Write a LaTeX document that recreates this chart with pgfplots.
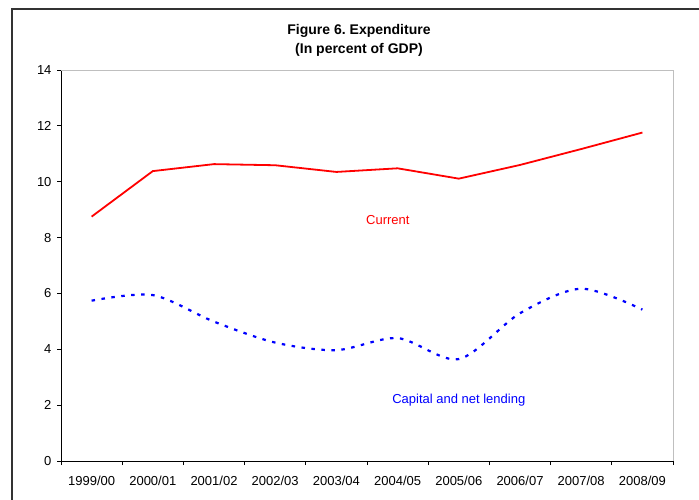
\documentclass[border=0pt]{standalone}
\usepackage{fontspec}
\setmainfont{Liberation Sans}
\usepackage{pgfplots}
\pgfplotsset{compat=1.18}
\frenchspacing

\begin{document}
\begin{tikzpicture}[x=1pt,y=1pt]
\path[use as bounding box] (0,0) rectangle (699,499);
% outer frame (runs off the right and bottom edges)
\draw[line width=1.4pt, draw=black!80] (12,-20) rectangle (720,490);
\node[align=center, font=\fontsize{14}{19}\selectfont\bfseries] at (359,458.5)
  {Figure 6. Expenditure\\(In percent of GDP)};
\begin{axis}[
  at={(61pt,38pt)}, anchor=south west,
  scale only axis, width=612pt, height=391pt,
  xmin=-0.5, xmax=9.5, ymin=0, ymax=14,
  axis lines=left,
  axis line style={-, black, line width=0.8pt},
  xtick={-0.5,0.5,...,9.5},
  x tick label as interval,
  xticklabels={1999/00,2000/01,2001/02,2002/03,2003/04,2004/05,2005/06,2006/07,2007/08,2008/09},
  ytick={0,2,...,14},
  tick align=outside,
  major tick length=4pt,
  tick style={black, line width=0.8pt},
  ticklabel style={font=\fontsize{13}{15}\selectfont},
  xticklabel style={yshift=-8pt},
  yticklabel style={xshift=-2pt},
  /pgf/number format/assume math mode=true,
  clip=false,
]
\draw[gray!50, line width=0.9pt] (rel axis cs:0,1) -- (rel axis cs:1,1) -- (rel axis cs:1,0);

\addplot[red, line width=1.8pt, mark=none] coordinates {
  (0,8.75) (1,10.38) (2,10.63) (3,10.59) (4,10.35)
  (5,10.48) (6,10.11) (7,10.60) (8,11.17) (9,11.76)
};
\addplot[blue, line width=2.2pt, mark=none, smooth, dash pattern=on 3.5pt off 6.5pt] coordinates {
  (0,5.74) (1,5.94) (2,4.99) (3,4.24) (4,3.97)
  (5,4.40) (6,3.65) (7,5.29) (8,6.17) (9,5.42)
};

\node[red, font=\fontsize{13}{15}\selectfont] at (axis cs:4.84,8.63) {Current};
\node[blue, font=\fontsize{13}{15}\selectfont] at (axis cs:6.0,2.18) {Capital and net lending};
\end{axis}
\end{tikzpicture}
\end{document}
